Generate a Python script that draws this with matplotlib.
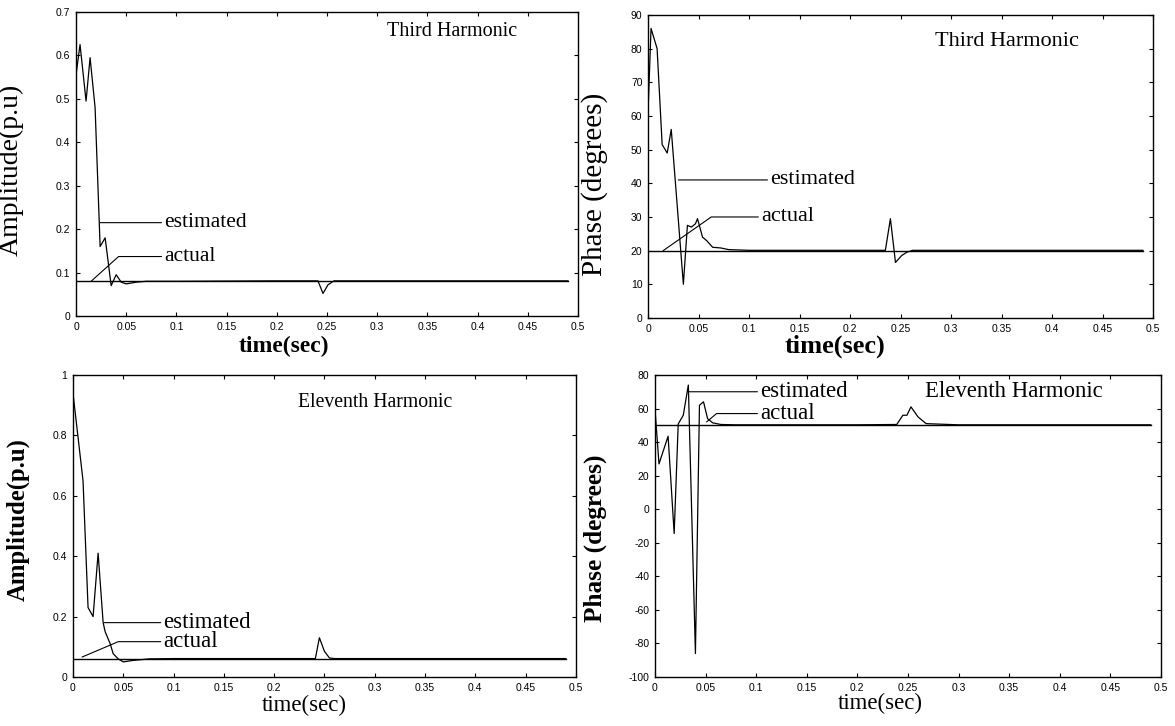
import numpy as np
import matplotlib
matplotlib.use("Agg")
import matplotlib.pyplot as plt
from matplotlib.ticker import FuncFormatter

# --- data ---
# third harmonic amplitude
t_amp3 = [0, 0.004, 0.01, 0.014, 0.019, 0.024, 0.029, 0.035, 0.04, 0.045, 0.05, 0.06,
          0.07, 0.1, 0.2, 0.241, 0.246, 0.251, 0.257, 0.3, 0.4, 0.49]
amp3_est = [0.555, 0.625, 0.495, 0.595, 0.48, 0.16, 0.18, 0.07, 0.095, 0.078, 0.074, 0.078,
            0.08, 0.08, 0.081, 0.081, 0.052, 0.072, 0.081, 0.081, 0.081, 0.081]
amp3_act = 0.08

# third harmonic phase
t_ph3 = [0, 0.003, 0.009, 0.014, 0.019, 0.023, 0.035, 0.039, 0.043, 0.047, 0.049, 0.054,
         0.058, 0.064, 0.072, 0.08, 0.1, 0.2, 0.235, 0.24, 0.245, 0.251, 0.256, 0.262,
         0.27, 0.3, 0.49]
ph3_est = [61, 86, 80, 51.5, 49, 56, 10, 27.5, 27, 28, 29.5, 24,
           23, 21, 20.8, 20.3, 20.1, 20.1, 20.1, 29.5, 16.5, 18.5, 19.5, 20.1,
           20.1, 20.1, 20.1]
ph3_act = 20

# eleventh harmonic amplitude
t_amp11 = [0, 0.01, 0.015, 0.02, 0.025, 0.03, 0.032, 0.037, 0.04, 0.045, 0.05, 0.06,
           0.076, 0.1, 0.2, 0.241, 0.245, 0.25, 0.255, 0.26, 0.3, 0.49]
amp11_est = [0.94, 0.65, 0.23, 0.2, 0.41, 0.18, 0.15, 0.11, 0.077, 0.06, 0.05, 0.055,
             0.06, 0.061, 0.061, 0.061, 0.13, 0.085, 0.063, 0.061, 0.061, 0.061]
amp11_act = 0.06

# eleventh harmonic phase
t_ph11 = [0, 0.004, 0.013, 0.019, 0.023, 0.028, 0.033, 0.04, 0.044, 0.048, 0.052, 0.057,
          0.065, 0.08, 0.1, 0.2, 0.239, 0.245, 0.249, 0.253, 0.26, 0.268, 0.3, 0.49]
ph11_est = [60, 27, 43.5, -14.5, 50.8, 56, 74, -86, 62, 64, 54, 51.5,
            50.5, 50.3, 50.3, 50.3, 50.5, 56, 56, 61, 55, 51, 50.3, 50.3]
ph11_act = 50

x_ticks = [0, 0.05, 0.1, 0.15, 0.2, 0.25, 0.3, 0.35, 0.4, 0.45, 0.5]

SERIF = "Liberation Serif"
SANS = "Liberation Sans"

fig = plt.figure(figsize=(11.75, 7.26), dpi=100)

# axes rectangles
ax_tl = fig.add_axes([0.0647, 0.5647, 0.4272, 0.4187])
ax_tr = fig.add_axes([0.5515, 0.5620, 0.4298, 0.4174])
ax_bl = fig.add_axes([0.0621, 0.0675, 0.4280, 0.4160])
ax_br = fig.add_axes([0.5574, 0.0675, 0.4306, 0.4160])

fmt = FuncFormatter(lambda v, p: "%g" % v)


def setup(ax, ylim, yticks):
    ax.set_xlim(0, 0.5)
    ax.set_ylim(*ylim)
    ax.set_xticks(x_ticks)
    ax.set_yticks(yticks)
    ax.xaxis.set_major_formatter(fmt)
    ax.yaxis.set_major_formatter(fmt)
    ax.tick_params(direction="in", top=True, right=True, length=3, width=0.8,
                   labelsize=7.5, pad=4)
    for lab in ax.get_xticklabels() + ax.get_yticklabels():
        lab.set_fontfamily(SANS)
    for s in ax.spines.values():
        s.set_linewidth(1.0)


def leaders(ax, est_xy, est_txt, act_tip, act_txt, act_angle, size):
    # "estimated" : straight horizontal leader
    ax.annotate("estimated", xy=est_xy, xytext=est_txt, ha="left", va="center",
                fontsize=size, fontfamily=SERIF,
                arrowprops=dict(arrowstyle="-", lw=0.8, color="black", shrinkA=0,
                                shrinkB=0, relpos=(0, 0.5)))
    # "actual" : horizontal then slanted leader
    ax.annotate("actual", xy=act_tip, xytext=act_txt, ha="left", va="center",
                fontsize=size, fontfamily=SERIF,
                arrowprops=dict(arrowstyle="-", lw=0.8, color="black", shrinkA=0,
                                shrinkB=0, relpos=(0, 0.5),
                                connectionstyle="angle,angleA=180,angleB=%g,rad=0" % act_angle))


# top left
setup(ax_tl, (0, 0.7), [0, 0.1, 0.2, 0.3, 0.4, 0.5, 0.6, 0.7])
ax_tl.plot(t_amp3, amp3_est, color="black", lw=0.9)
ax_tl.plot([0, 0.49], [amp3_act, amp3_act], color="black", lw=1.0)
ax_tl.text(0.375, 0.655, "Third Harmonic", ha="center", va="center",
           fontsize=14.5, fontfamily=SERIF)
leaders(ax_tl, (0.024, 0.215), (0.088, 0.215), (0.015, amp3_act), (0.088, 0.137), 42, 15.5)
ax_tl.set_ylabel("Amplitude(p.u)", fontsize=20, fontfamily=SERIF)
ax_tl.yaxis.set_label_coords(-0.105, 0.48)
ax_tl.set_xlabel("time(sec)", fontsize=17, fontfamily=SERIF, fontweight="bold")
ax_tl.xaxis.set_label_coords(0.415, -0.065)

# top right
setup(ax_tr, (0, 90), [0, 10, 20, 30, 40, 50, 60, 70, 80, 90])
ax_tr.plot(t_ph3, ph3_est, color="black", lw=0.9)
ax_tr.plot([0, 0.49], [ph3_act, ph3_act], color="black", lw=1.0)
ax_tr.text(0.355, 82, "Third Harmonic", ha="center", va="center",
           fontsize=16, fontfamily=SERIF)
leaders(ax_tr, (0.030, 41), (0.121, 41), (0.015, ph3_act), (0.112, 30), 35, 16)
ax_tr.set_ylabel("Phase (degrees)", fontsize=21, fontfamily=SERIF)
ax_tr.yaxis.set_label_coords(-0.08, 0.44)
ax_tr.set_xlabel("time(sec)", fontsize=19, fontfamily=SERIF, fontweight="bold")
ax_tr.xaxis.set_label_coords(0.37, -0.055)

# bottom left
setup(ax_bl, (0, 1), [0, 0.2, 0.4, 0.6, 0.8, 1])
ax_bl.plot(t_amp11, amp11_est, color="black", lw=0.9)
ax_bl.plot([0, 0.49], [amp11_act, amp11_act], color="black", lw=1.0)
ax_bl.text(0.30, 0.91, "Eleventh Harmonic", ha="center", va="center",
           fontsize=14.2, fontfamily=SERIF)
leaders(ax_bl, (0.031, 0.18), (0.09, 0.18), (0.009, 0.066), (0.09, 0.117), 23, 16.5)
ax_bl.set_ylabel("Amplitude(p.u)", fontsize=17.8, fontfamily=SERIF, fontweight="bold")
ax_bl.yaxis.set_label_coords(-0.085, 0.52)
ax_bl.set_xlabel("time(sec)", fontsize=16.5, fontfamily=SERIF)
ax_bl.xaxis.set_label_coords(0.46, -0.06)

# bottom right
setup(ax_br, (-100, 80), [-100, -80, -60, -40, -20, 0, 20, 40, 60, 80])
ax_br.plot(t_ph11, ph11_est, color="black", lw=0.9)
ax_br.plot([0, 0.49], [ph11_act, ph11_act], color="black", lw=1.0)
ax_br.text(0.355, 70, "Eleventh Harmonic", ha="center", va="center",
           fontsize=16.4, fontfamily=SERIF)
leaders(ax_br, (0.033, 70), (0.104, 70), (0.051, 52), (0.104, 57), 40, 16.5)
ax_br.set_ylabel("Phase (degrees)", fontsize=18.2, fontfamily=SERIF, fontweight="bold")
ax_br.yaxis.set_label_coords(-0.095, 0.46)
ax_br.set_xlabel("time(sec)", fontsize=16.5, fontfamily=SERIF)
ax_br.xaxis.set_label_coords(0.445, -0.052)

fig.savefig("out.png", dpi=100)
